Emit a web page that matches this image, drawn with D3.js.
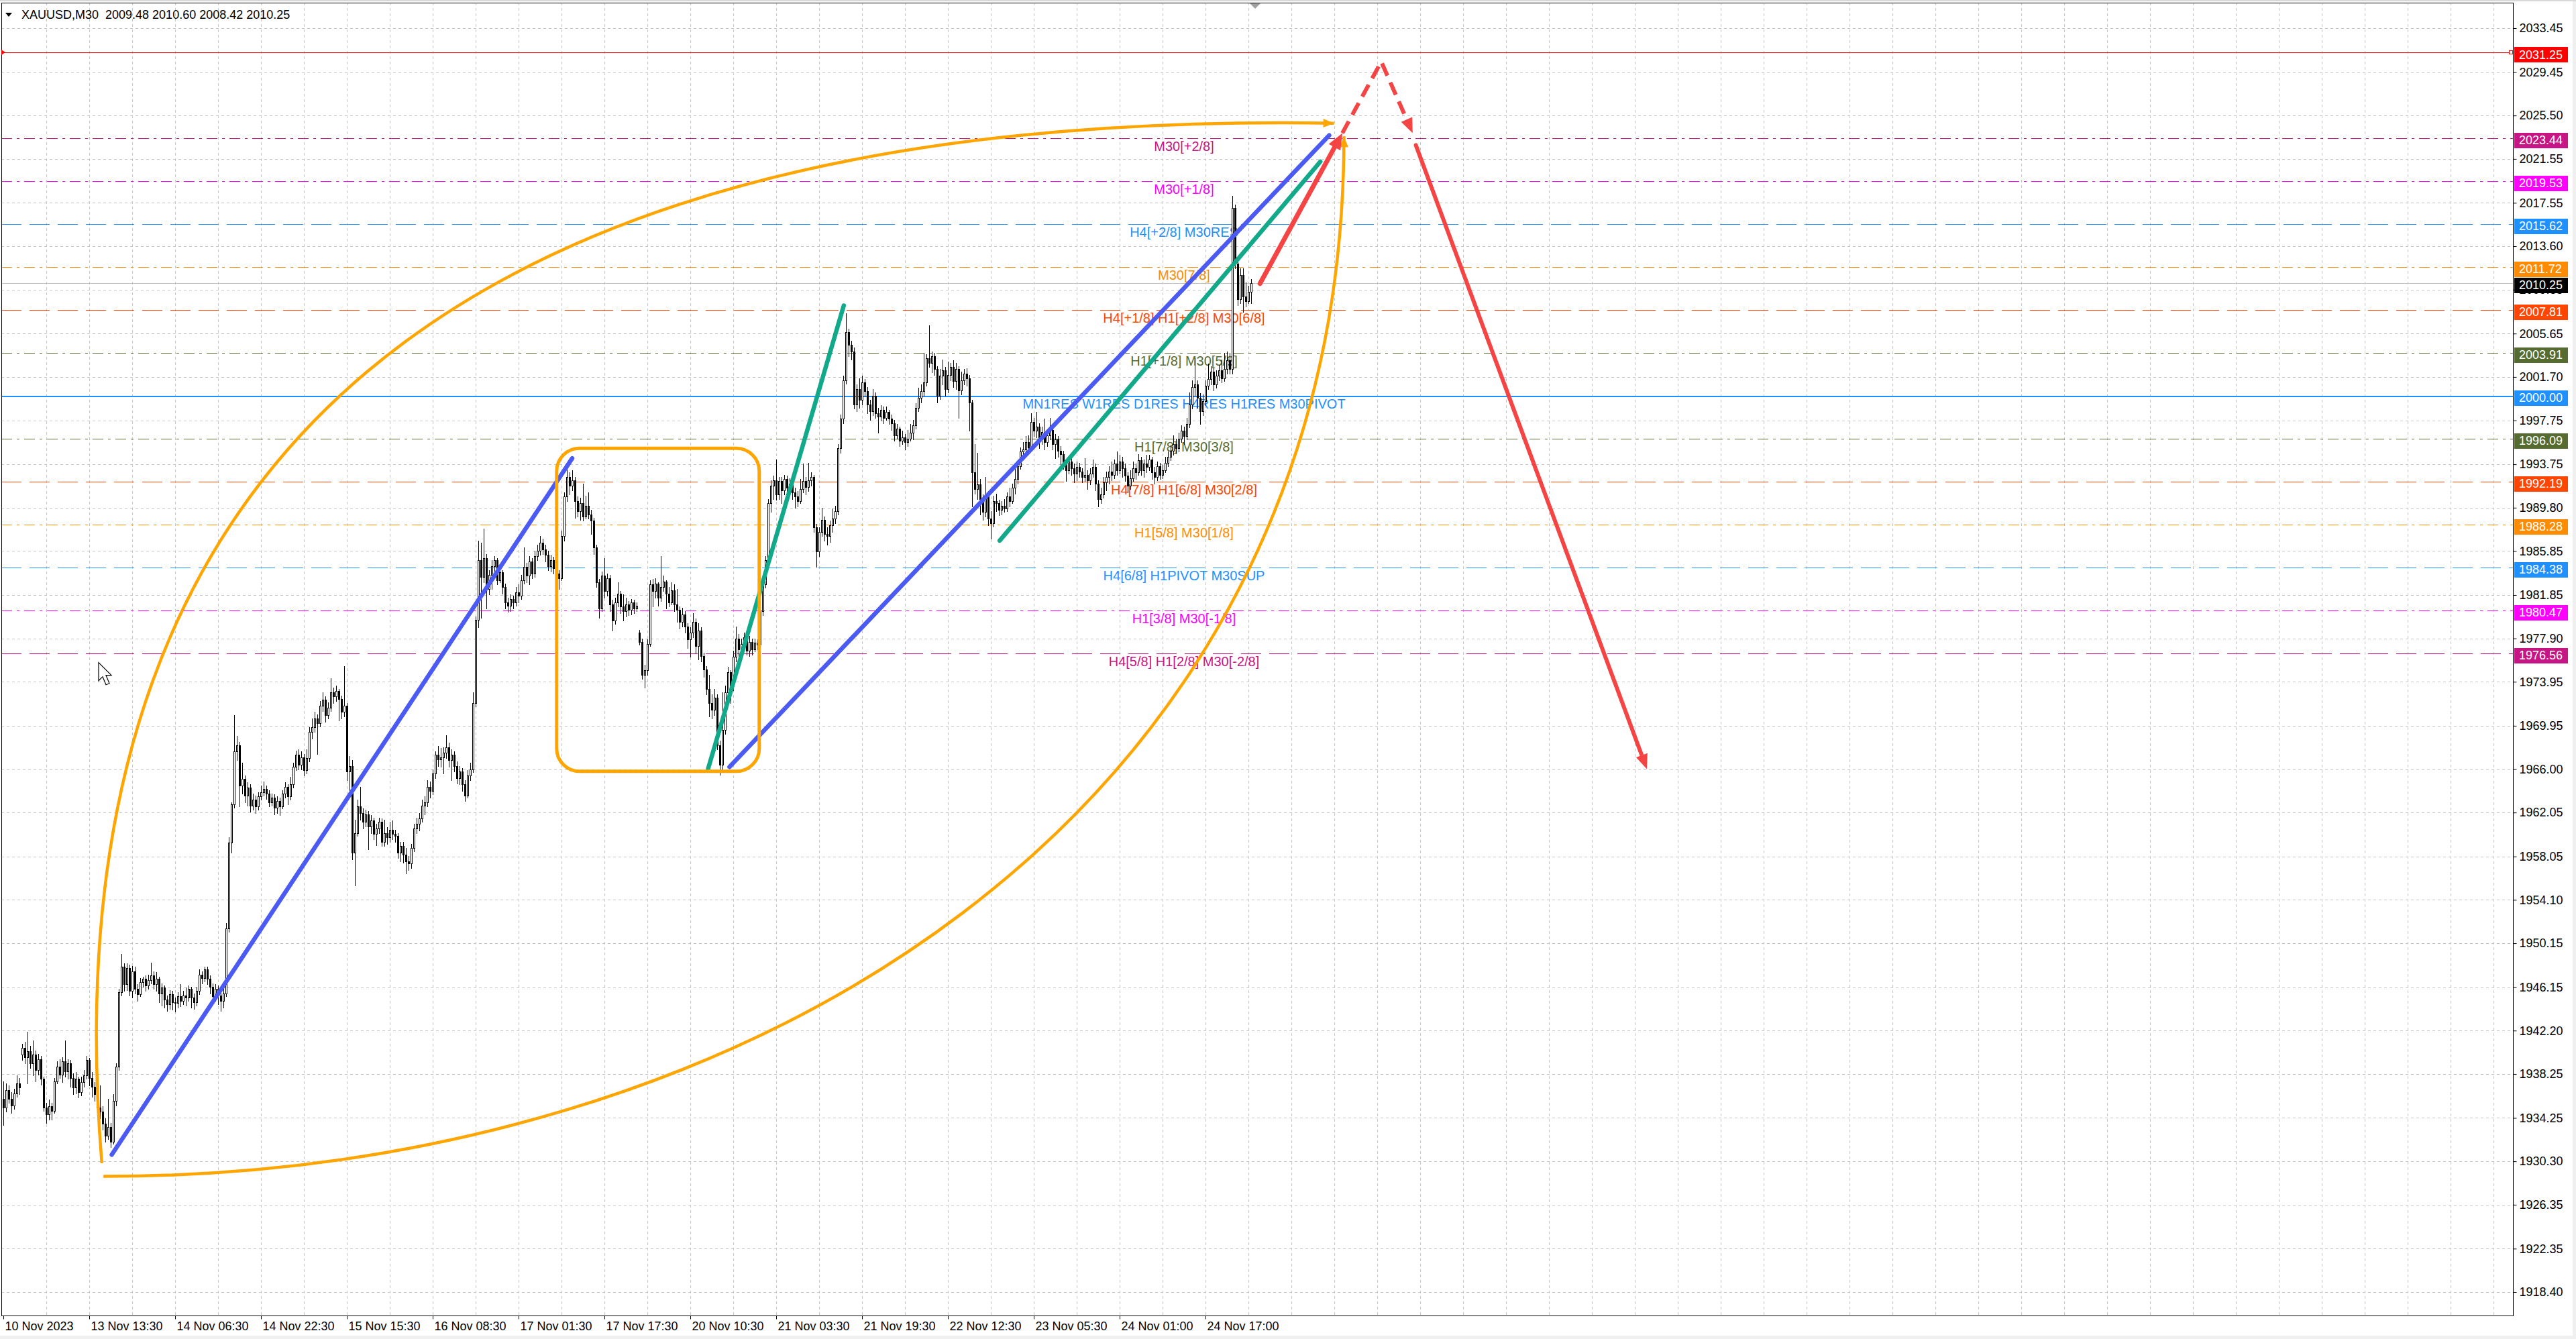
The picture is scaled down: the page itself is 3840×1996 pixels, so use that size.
<!DOCTYPE html>
<html><head><meta charset="utf-8">
<script src="https://cdn.jsdelivr.net/npm/d3@7"></script>
<style>
html,body{margin:0;padding:0;background:#fff;overflow:hidden}
svg{display:block}
text{font-family:"Liberation Sans",Arial,sans-serif}
</style>
</head><body>
<svg id="c" width="3840" height="1996"></svg>
<script>
// ---------------- DATA ----------------
const symbolTitle = "XAUUSD,M30  2009.48 2010.60 2008.42 2010.25";
const firstOpen = 1936.0;
const gapOpens = [[7, 1940.0], [237, 1978.4]];
const closes = [
1935.2,1936.8,1936.0,1935.4,1936.5,1937.4,1937.0,1940.6,1939.8,1940.3,
1939.2,1940.0,1938.6,1939.6,1937.8,1935.2,1934.6,1935.3,1934.9,1937.6,
1938.9,1938.2,1939.4,1938.5,1939.2,1937.9,1937.0,1937.8,1936.6,1937.5,
1938.1,1939.5,1937.9,1937.1,1936.4,1935.2,1934.8,1933.7,1932.6,1933.4,
1932.1,1935.8,1938.9,1945.7,1948.0,1946.4,1947.9,1945.8,1947.6,1946.0,
1945.5,1946.6,1946.9,1946.3,1946.8,1947.2,1946.4,1946.9,1945.6,1946.1,
1945.0,1944.6,1945.5,1944.8,1944.7,1945.3,1944.9,1945.4,1945.2,1946.0,
1945.2,1944.8,1945.8,1947.3,1947.0,1947.8,1946.9,1946.2,1945.3,1946.0,
1945.4,1944.9,1945.6,1951.5,1959.3,1962.8,1967.6,1968.2,1964.5,1965.1,
1963.6,1964.3,1962.7,1963.2,1962.6,1963.5,1963.9,1964.2,1963.8,1963.0,
1963.4,1962.5,1963.1,1962.6,1963.8,1964.4,1963.5,1964.6,1966.2,1967.3,
1966.4,1967.1,1965.9,1967.0,1969.4,1969.8,1970.6,1970.2,1971.8,1972.3,
1970.9,1971.6,1973.0,1972.6,1973.1,1972.4,1971.2,1971.8,1965.8,1966.3,
1958.4,1960.2,1962.6,1962.0,1961.2,1961.9,1960.8,1961.3,1960.1,1960.6,
1961.2,1959.4,1960.2,1959.8,1960.5,1960.1,1959.9,1958.4,1959.0,1958.2,
1957.6,1957.4,1958.8,1960.6,1961.0,1961.5,1962.7,1963.0,1964.4,1964.0,
1965.6,1967.3,1966.9,1967.1,1967.5,1968.0,1966.8,1967.3,1966.3,1965.2,
1965.8,1964.6,1963.6,1965.4,1966.0,1972.0,1979.6,1985.0,1983.5,1985.2,
1982.4,1983.7,1984.5,1985.0,1983.2,1983.9,1982.6,1981.2,1980.9,1981.5,
1981.2,1982.1,1981.8,1983.2,1984.4,1983.6,1984.9,1983.8,1985.4,1985.9,
1986.6,1986.0,1985.5,1984.5,1985.0,1984.3,1983.8,1983.4,1987.2,1990.8,
1992.6,1991.8,1992.3,1990.4,1989.5,1990.2,1989.0,1990.0,1989.2,1988.6,
1986.2,1983.0,1980.6,1983.6,1982.2,1983.4,1981.0,1979.5,1981.2,1982.0,
1980.8,1980.4,1981.0,1980.5,1981.2,1980.6,1980.9,1977.6,1974.6,1975.0,
1977.4,1982.8,1982.2,1982.9,1981.6,1982.6,1983.1,1982.0,1981.2,1982.3,
1981.0,1980.5,1979.4,1980.1,1979.0,1977.8,1978.4,1979.4,1977.2,1978.6,
1976.3,1975.1,1973.3,1972.0,1971.4,1972.5,1968.2,1966.4,1969.6,1973.0,
1974.8,1973.6,1976.2,1977.9,1976.9,1977.4,1978.0,1976.8,1977.6,1976.9,
1977.5,1977.3,1980.4,1982.8,1985.0,1990.2,1991.8,1992.3,1991.0,1992.2,
1991.4,1992.4,1991.6,1992.0,1991.2,1990.8,1990.4,1991.5,1992.2,1991.7,
1992.3,1992.6,1988.0,1985.8,1987.6,1988.7,1987.4,1987.2,1988.2,1988.8,
1989.5,1995.2,1997.9,2001.4,2005.8,2004.6,2004.0,1999.2,2000.6,1999.6,
2001.2,2000.4,1999.2,1998.6,2000.0,1998.4,1998.1,1998.7,1998.0,1998.5,
1997.9,1997.5,1996.4,1997.0,1995.9,1996.2,1995.8,1996.1,1996.6,1997.3,
1998.9,1999.8,2000.4,2001.2,2003.4,2003.0,2003.6,2002.4,2000.0,2001.8,
2002.3,2000.6,2001.9,2002.6,2001.3,2002.4,2000.5,2001.4,2002.0,2001.6,
1999.4,1993.0,1991.5,1991.9,1990.6,1989.4,1991.0,1988.8,1988.4,1990.4,
1990.2,1989.6,1990.0,1989.7,1990.8,1990.4,1991.6,1992.4,1993.6,1994.9,
1995.1,1995.8,1995.3,1997.6,1996.8,1997.2,1996.0,1996.7,1995.8,1996.4,
1996.9,1995.6,1996.0,1995.0,1994.7,1993.8,1993.2,1994.0,1993.4,1992.9,
1993.5,1993.1,1992.6,1992.8,1992.3,1992.9,1993.5,1992.0,1990.6,1991.0,
1992.1,1992.6,1993.1,1992.8,1993.8,1993.2,1994.0,1993.4,1992.7,1991.8,
1992.5,1993.4,1993.0,1994.1,1993.2,1993.8,1993.5,1994.2,1993.0,1992.6,
1993.6,1992.8,1993.2,1993.9,1994.4,1995.0,1995.6,1995.2,1996.1,1996.8,
1996.3,1997.4,1999.2,2000.8,2001.0,1999.8,1998.6,1999.5,2000.9,2001.5,
2002.2,2001.0,2001.8,2002.3,2001.6,2002.4,2003.2,2002.4,2017.1,2012.0,
2008.8,2011.0,2009.0,2008.6,2009.48,2010.25];
const highs = [
1937.6,1937.4,1937.2,1936.6,1936.9,1938.1,1937.9,1941.0,1941.2,1942.1,
1940.8,1941.3,1940.4,1940.1,1939.9,1938.0,1935.6,1935.9,1935.6,1937.9,
1939.4,1939.6,1939.8,1941.3,1939.6,1939.5,1938.3,1938.4,1938.0,1938.0,
1938.6,1939.9,1939.7,1938.4,1937.5,1936.8,1937.2,1935.3,1934.2,1936.0,
1933.8,1936.4,1939.2,1946.0,1949.2,1948.3,1948.3,1948.2,1948.1,1948.0,
1946.4,1947.0,1947.1,1947.2,1947.3,1948.4,1947.6,1947.5,1947.1,1946.5,
1946.3,1945.4,1945.9,1945.8,1945.2,1945.7,1946.4,1945.8,1946.1,1946.3,
1946.2,1945.6,1946.2,1947.8,1947.6,1948.0,1948.0,1947.2,1946.5,1946.4,
1946.3,1945.8,1946.0,1952.0,1959.8,1963.0,1970.9,1969.0,1968.5,1966.6,
1965.4,1964.8,1964.6,1963.8,1963.6,1963.9,1964.5,1964.9,1964.5,1964.1,
1963.8,1963.7,1963.5,1963.4,1964.1,1964.8,1964.6,1965.3,1966.6,1967.7,
1967.8,1967.6,1967.4,1967.8,1969.8,1970.6,1971.2,1971.0,1972.2,1973.0,
1972.6,1972.1,1974.3,1973.4,1973.6,1973.3,1972.7,1975.4,1972.0,1967.2,
1966.8,1961.4,1963.2,1964.4,1962.4,1962.3,1962.2,1961.8,1961.6,1961.0,
1961.6,1961.5,1961.4,1960.7,1961.2,1961.3,1960.5,1960.2,1959.4,1959.4,
1958.8,1958.1,1959.2,1961.0,1961.6,1962.0,1963.2,1963.5,1965.0,1964.9,
1966.0,1967.6,1968.1,1967.9,1968.0,1969.1,1968.4,1967.8,1967.6,1966.7,
1966.3,1966.1,1965.0,1965.9,1966.6,1973.0,1979.9,1986.8,1986.6,1987.9,
1985.6,1984.1,1985.0,1985.4,1985.2,1984.3,1984.1,1982.9,1981.6,1981.9,
1981.8,1982.6,1982.8,1983.7,1986.2,1984.8,1985.4,1985.2,1985.9,1986.4,
1987.2,1987.0,1986.4,1985.9,1985.5,1985.3,1984.6,1984.1,1987.7,1991.2,
1993.4,1993.0,1993.2,1992.6,1990.8,1990.7,1992.0,1990.9,1991.2,1989.6,
1988.9,1986.4,1983.3,1984.0,1985.2,1983.8,1983.7,1981.4,1981.6,1983.0,
1982.2,1981.9,1981.6,1981.3,1981.5,1981.4,1981.2,1978.7,1977.9,1975.5,
1977.8,1983.2,1983.3,1983.4,1983.0,1985.4,1983.6,1983.2,1982.6,1983.0,
1982.8,1982.4,1980.8,1980.7,1980.4,1979.3,1978.9,1980.2,1979.7,1979.3,
1978.9,1976.6,1975.4,1974.6,1972.8,1973.3,1972.8,1968.6,1973.0,1973.6,
1975.3,1975.0,1976.8,1979.0,1978.3,1977.9,1978.4,1978.6,1978.1,1977.9,
1977.9,1977.8,1980.9,1983.3,1985.4,1990.6,1992.3,1992.7,1994.2,1992.6,
1992.6,1992.8,1992.7,1992.5,1992.3,1991.6,1991.3,1992.4,1993.8,1992.6,
1993.9,1993.0,1992.8,1988.3,1988.0,1989.8,1989.0,1988.0,1988.6,1989.7,
1990.0,1995.6,1998.3,2001.8,2007.5,2006.1,2005.0,2004.4,2001.0,2001.6,
2001.8,2001.5,2000.8,1999.6,2000.6,2000.3,1998.9,1999.1,1999.0,1999.0,
1998.7,1998.3,1997.8,1997.4,1997.2,1996.8,1996.5,1996.9,1997.4,1997.8,
1999.3,2000.7,2001.0,2003.9,2003.8,2006.4,2004.0,2003.9,2002.7,2002.4,
2003.3,2002.6,2003.1,2003.0,2003.2,2003.0,2002.7,2002.2,2002.4,2002.5,
2001.9,1999.6,1995.6,1994.8,1992.4,1991.0,1992.6,1991.3,1989.5,1990.9,
1991.1,1990.5,1990.4,1990.6,1991.2,1991.6,1992.0,1993.4,1994.0,1995.3,
1995.8,1996.3,1996.4,1998.4,1998.0,1998.5,1997.5,1997.2,1997.9,1996.9,
1998.0,1997.2,1996.5,1996.3,1995.4,1995.0,1994.1,1994.4,1994.6,1993.8,
1994.0,1993.9,1993.4,1994.3,1993.2,1993.4,1994.2,1993.8,1992.3,1991.6,
1992.6,1993.1,1993.6,1994.0,1994.2,1994.9,1994.6,1994.4,1993.8,1993.0,
1993.2,1994.0,1993.8,1994.7,1994.4,1994.2,1994.6,1994.6,1994.4,1993.5,
1994.0,1993.9,1993.7,1994.4,1994.9,1995.5,1996.4,1996.1,1996.6,1997.3,
1997.2,1998.0,2000.3,2001.4,2003.4,2001.4,2000.2,2000.1,2001.4,2002.9,
2002.7,2002.5,2002.3,2002.8,2003.3,2003.9,2004.0,2003.9,2018.2,2017.4,
2012.3,2011.6,2011.6,2010.3,2010.0,2010.60];
const lows = [
1933.6,1934.8,1935.6,1934.7,1935.1,1936.2,1936.4,1939.5,1939.2,1937.4,
1938.8,1938.1,1937.6,1938.2,1937.3,1934.9,1933.8,1934.1,1934.1,1934.7,
1937.4,1937.9,1937.5,1938.0,1937.8,1937.1,1936.4,1936.5,1936.1,1936.3,
1937.1,1937.8,1937.2,1936.2,1935.8,1934.9,1934.2,1933.2,1932.1,1932.3,
1931.6,1931.9,1935.4,1938.6,1945.4,1945.8,1945.9,1945.4,1945.2,1945.6,
1944.9,1945.3,1946.2,1945.8,1946.0,1946.5,1946.0,1945.8,1944.8,1944.5,
1944.3,1944.0,1944.2,1944.1,1943.9,1944.3,1944.4,1944.6,1944.5,1944.9,
1944.3,1944.2,1944.5,1945.5,1946.5,1946.7,1946.4,1945.6,1944.8,1944.9,
1944.6,1944.0,1944.3,1945.3,1951.2,1958.4,1962.5,1966.8,1962.6,1963.8,
1963.0,1962.7,1962.1,1962.3,1962.0,1962.3,1963.2,1963.6,1963.3,1962.6,
1962.7,1961.9,1962.0,1961.8,1962.4,1963.4,1962.8,1963.2,1964.3,1965.9,
1966.0,1966.0,1965.4,1965.6,1966.7,1968.8,1969.4,1967.4,1969.9,1971.3,
1970.3,1970.6,1971.3,1972.0,1972.2,1970.4,1970.6,1970.8,1965.0,1963.6,
1957.8,1955.4,1959.9,1961.4,1960.6,1960.8,1958.7,1960.2,1959.6,1959.1,
1960.2,1959.0,1959.0,1959.2,1959.4,1959.6,1959.4,1957.9,1957.6,1957.5,
1956.5,1956.8,1957.0,1958.5,1960.2,1960.4,1961.2,1961.9,1962.6,1963.4,
1963.7,1965.2,1966.3,1966.2,1965.6,1967.0,1966.2,1965.0,1965.8,1964.7,
1964.6,1964.0,1963.1,1963.4,1965.0,1965.7,1971.7,1978.9,1979.8,1983.0,
1980.6,1981.9,1982.4,1984.0,1982.8,1983.0,1982.0,1980.6,1980.3,1980.4,
1980.6,1980.9,1981.2,1981.5,1982.9,1983.0,1982.8,1983.4,1983.5,1985.0,
1985.5,1985.6,1984.9,1984.1,1984.0,1983.8,1983.4,1982.4,1983.2,1986.8,
1990.4,1991.0,1991.4,1988.9,1989.0,1988.7,1988.6,1988.8,1988.8,1987.4,
1985.6,1982.6,1979.8,1980.4,1981.6,1981.8,1980.4,1978.6,1979.2,1980.8,
1980.2,1979.5,1979.9,1980.0,1980.1,1980.2,1980.4,1977.3,1974.2,1973.4,
1974.6,1977.2,1980.8,1981.6,1980.9,1981.3,1982.2,1980.6,1980.8,1981.0,
1980.4,1979.4,1978.8,1979.0,1978.4,1977.0,1976.2,1978.0,1976.6,1976.0,
1975.8,1974.4,1972.8,1970.8,1970.6,1970.9,1967.8,1965.5,1966.0,1969.2,
1972.4,1972.0,1973.2,1975.8,1975.3,1976.2,1976.9,1976.4,1976.3,1976.4,
1976.7,1976.9,1977.0,1980.0,1982.5,1984.7,1989.4,1990.6,1990.5,1990.6,
1990.2,1991.0,1990.9,1991.2,1990.6,1989.8,1989.9,1990.2,1991.2,1991.0,
1991.3,1991.8,1987.6,1984.4,1985.4,1987.2,1986.8,1986.4,1986.7,1987.6,
1988.4,1989.2,1994.8,1997.5,2001.1,2003.6,2003.3,1998.8,1998.6,1998.9,
1999.2,1999.9,1998.4,1997.8,1998.2,1998.0,1996.6,1997.7,1997.5,1997.8,
1997.4,1996.9,1995.9,1996.1,1995.4,1995.6,1995.1,1995.4,1995.9,1996.0,
1997.0,1998.6,1999.4,2000.0,2000.9,2002.6,2002.1,2001.9,1999.4,1999.7,
2001.0,2000.0,2000.3,2001.4,2000.8,2000.6,1998.0,2000.1,2001.0,2000.9,
1996.8,1989.9,1991.1,1990.6,1989.2,1988.7,1989.0,1988.2,1987.0,1988.1,
1989.5,1989.1,1989.2,1989.4,1989.5,1989.9,1990.2,1991.1,1992.0,1993.3,
1994.4,1994.7,1994.9,1995.0,1996.3,1996.2,1995.2,1995.6,1995.1,1995.4,
1996.0,1995.1,1994.3,1994.4,1993.6,1993.3,1992.2,1992.9,1992.8,1992.1,
1992.3,1992.6,1992.1,1992.2,1991.5,1991.9,1992.6,1991.4,1989.9,1990.2,
1990.7,1991.4,1992.0,1992.3,1992.5,1992.8,1992.9,1992.6,1992.2,1991.2,
1991.5,1992.2,1992.4,1992.8,1992.8,1992.6,1993.0,1993.2,1992.4,1992.0,
1992.3,1992.4,1992.5,1993.0,1993.6,1994.1,1994.6,1994.8,1994.9,1995.8,
1995.6,1996.0,1997.1,1998.8,2000.0,1998.9,1997.4,1998.2,1999.1,2000.6,
2001.0,2000.5,2000.7,2001.4,2001.2,2001.3,2002.0,2002.0,2002.0,2011.6,
2008.2,2008.4,2007.6,2008.1,2008.4,2008.42];

const yTicks = [2033.45,2029.45,2025.50,2021.55,2017.55,2013.60,2009.65,2005.65,2001.70,1997.75,1993.75,1989.80,1985.85,1981.85,1977.90,1973.95,1969.95,1966.00,1962.05,1958.05,1954.10,1950.15,1946.15,1942.20,1938.25,1934.25,1930.30,1926.35,1922.35,1918.40];
const xTickBars = [0,32,64,96,128,160,192,224,256,288,320,352,384,416,448];
const xTickLabels = ["10 Nov 2023","13 Nov 13:30","14 Nov 06:30","14 Nov 22:30","15 Nov 15:30","16 Nov 08:30","17 Nov 01:30","17 Nov 17:30","20 Nov 10:30","21 Nov 03:30","21 Nov 19:30","22 Nov 12:30","23 Nov 05:30","24 Nov 01:00","24 Nov 17:00"];

const levelPrices = [2023.44,2019.53,2015.62,2011.72,2007.81,2003.91,2000.00,1996.09,1992.19,1988.28,1984.38,1980.47,1976.56];
const levelLabels = ["M30[+2/8]","M30[+1/8]","H4[+2/8] M30RES","M30[7/8]","H4[+1/8] H1[+2/8] M30[6/8]","H1[+1/8] M30[5/8]","MN1RES W1RES D1RES H4RES H1RES M30PIVOT","H1[7/8] M30[3/8]","H4[7/8] H1[6/8] M30[2/8]","H1[5/8] M30[1/8]","H4[6/8] H1PIVOT M30SUP","H1[3/8] M30[-1/8]","H4[5/8] H1[2/8] M30[-2/8]"];
const targetPrice = 2031.25;
const currentPrice = 2010.25;

// annotation anchors (bar index, price)
const blueLines = [[[40.4,1930.9],[212,1994.3]], [[270.6,1966.2],[494.1,2023.7]]];
const tealLines = [[[262.6,1966.0],[313.2,2008.2]], [[371.3,1986.8],[490.8,2021.3]]];
const boxBars = [206.2, 281.7];
const boxPrices = [1965.8, 1995.2];
// curved arrows: Bezier anchor/control points (bar, price)
const upperArc = [[36.7,1930.13],[4.1,2026.74],[495.9,2024.80]];                 // quadratic
const lowerArc = [[37.3,1928.93],[274.3,1928.93],[499.6,1961.24],[499.6,2023.60]]; // cubic
const redSolidArrow = [[468.3,2010.2],[499.0,2023.9]];
const redDashed = [[499.0,2023.9],[513.5,2030.4],[525.2,2023.9]];
const redDownArrow = [[526.4,2022.8],[612.5,1966.0]];

// ---------------- STYLES ----------------
const levelColors = ["#C71585","#FF00FF","#1E90FF","#FF8C00","#FF4500","#556B2F","#1E90FF","#556B2F","#FF4500","#FF8C00","#1E90FF","#FF00FF","#C71585"];
const levelStyles = ["dashdot","dashdot","dash","dashdot","dash","dashdot","solid","dashdot","dash","dashdot","dash","dashdot","dash"];
const dashMap = {dash:"30,12", dashdot:"16,7,4,7", solid:null};

// ---------------- SCALES ----------------
const W = 3840, H = 1996;
const plot = {l:2, t:4, r:3746, b:1961};
const x = d3.scaleLinear().domain([0,448]).range([5,1797]);
const y = d3.scaleLinear().domain([1918.40,2033.45]).range([1926,42]);

const svg = d3.select("#c");
svg.append("rect").attr("width",W).attr("height",H).attr("fill","#fff");

// window frame bits
svg.append("rect").attr("x",0).attr("y",1991).attr("width",W).attr("height",5).attr("fill","#f0f0f0");
svg.append("rect").attr("x",3835).attr("y",0).attr("width",5).attr("height",H).attr("fill","#f0f0f0");
svg.append("rect").attr("x",0).attr("y",0).attr("width",W).attr("height",2).attr("fill","#d8d8d8");

svg.append("clipPath").attr("id","pc").append("rect")
  .attr("x",plot.l).attr("y",plot.t).attr("width",plot.r-plot.l).attr("height",plot.b-plot.t);

const g = svg.append("g").attr("clip-path","url(#pc)");

// grid
const gridG = g.append("g").attr("stroke","#c4c4c4").attr("stroke-width",1).attr("stroke-dasharray","4,4").attr("shape-rendering","crispEdges");
const vBars = d3.range(16, 934, 16);
gridG.selectAll("line.v").data(vBars).join("line")
  .attr("x1",d=>Math.round(x(d))+0.5).attr("x2",d=>Math.round(x(d))+0.5)
  .attr("y1",plot.t).attr("y2",plot.b);
gridG.selectAll("line.h").data(yTicks).join("line")
  .attr("y1",d=>Math.round(y(d))+0.5).attr("y2",d=>Math.round(y(d))+0.5)
  .attr("x1",plot.l).attr("x2",plot.r);

// level lines
g.append("g").selectAll("line").data(levelPrices).join("line")
  .attr("x1",plot.l).attr("x2",plot.r)
  .attr("y1",d=>Math.round(y(d))+0.5).attr("y2",d=>Math.round(y(d))+0.5)
  .attr("stroke",(d,i)=>levelColors[i])
  .attr("stroke-width",(d,i)=>levelStyles[i]==="solid"?2:1)
  .attr("stroke-dasharray",(d,i)=>dashMap[levelStyles[i]])
  .attr("shape-rendering","crispEdges");

// target line
g.append("line").attr("x1",plot.l).attr("x2",plot.r)
  .attr("y1",Math.round(y(targetPrice))+0.5).attr("y2",Math.round(y(targetPrice))+0.5)
  .attr("stroke","#FF0000").attr("stroke-width",1);

// current price line
g.append("line").attr("x1",plot.l).attr("x2",plot.r)
  .attr("y1",Math.round(y(currentPrice))+0.5).attr("y2",Math.round(y(currentPrice))+0.5)
  .attr("stroke","#c0c0c0").attr("stroke-width",1);

// level labels
const labelBar = 440;
g.append("g").selectAll("text").data(levelPrices).join("text")
  .attr("x",x(labelBar)).attr("y",d=>y(d)+19)
  .attr("text-anchor","middle").attr("font-size",20)
  .attr("fill",(d,i)=>levelColors[i])
  .text((d,i)=>levelLabels[i]);

// candles
const bars = closes.map((c,i)=>{
  let o = i===0 ? firstOpen : closes[i-1];
  const gp = gapOpens.find(e=>e[0]===i); if (gp) o = gp[1];
  return {i, o, h:highs[i], l:lows[i], c};
});
const cg = g.append("g").attr("shape-rendering","crispEdges");
cg.selectAll("line").data(bars).join("line")
  .attr("x1",d=>Math.round(x(d.i))+0.5).attr("x2",d=>Math.round(x(d.i))+0.5)
  .attr("y1",d=>Math.round(y(d.h))).attr("y2",d=>Math.round(y(d.l))+1)
  .attr("stroke","#000");
cg.selectAll("rect").data(bars).join("rect")
  .attr("x",d=>Math.round(x(d.i))-1+0.5)
  .attr("y",d=>Math.round(y(Math.max(d.o,d.c)))+0.5)
  .attr("width",2)
  .attr("height",d=>Math.max(0, Math.round(y(Math.min(d.o,d.c)))-Math.round(y(Math.max(d.o,d.c)))))
  .attr("fill",d=>d.c>=d.o?"#fff":"#000")
  .attr("stroke","#000").attr("stroke-width",1);

// helpers
const P = p => [x(p[0]), y(p[1])];
function arrowHead(sel, tip, from, len, wid, color){
  const dx = tip[0]-from[0], dy = tip[1]-from[1];
  const L = Math.hypot(dx,dy), ux = dx/L, uy = dy/L;
  const bx = tip[0]-ux*len, by = tip[1]-uy*len;
  const pts = [[tip[0],tip[1]],[bx-uy*wid/2, by+ux*wid/2],[bx+uy*wid/2, by-ux*wid/2]];
  sel.append("path").attr("d","M"+pts.map(p=>p.join(",")).join("L")+"Z").attr("fill",color);
}
function shorten(a, b, d){
  const dx=b[0]-a[0], dy=b[1]-a[1], L=Math.hypot(dx,dy);
  return [b[0]-dx/L*d, b[1]-dy/L*d];
}

const ag = g.append("g").attr("fill","none").attr("stroke-linecap","round");

// orange curved arrows
const orange = "#FFA500";
{
  const [a,c,b] = upperArc.map(P);
  const p = d3.path(); p.moveTo(a[0],a[1]); p.quadraticCurveTo(c[0],c[1],b[0],b[1]);
  ag.append("path").attr("d",p.toString()).attr("stroke",orange).attr("stroke-width",4.5).attr("stroke-linecap","butt");
  arrowHead(g, b, c, 16, 13, orange);
}
{
  const [a,c1,c2,b] = lowerArc.map(P);
  const p = d3.path(); p.moveTo(a[0],a[1]); p.bezierCurveTo(c1[0],c1[1],c2[0],c2[1],b[0],b[1]);
  ag.append("path").attr("d",p.toString()).attr("stroke",orange).attr("stroke-width",4.5).attr("stroke-linecap","butt");
  arrowHead(g, b, c2, 16, 13, orange);
}

// orange rounded box
g.append("rect")
  .attr("x",x(boxBars[0])).attr("y",y(boxPrices[1]))
  .attr("width",x(boxBars[1])-x(boxBars[0])).attr("height",y(boxPrices[0])-y(boxPrices[1]))
  .attr("rx",34).attr("ry",34)
  .attr("fill","none").attr("stroke",orange).attr("stroke-width",5);

// blue & teal lines
blueLines.forEach(l=>{
  const a=P(l[0]), b=P(l[1]);
  ag.append("line").attr("x1",a[0]).attr("y1",a[1]).attr("x2",b[0]).attr("y2",b[1])
    .attr("stroke","#4A5AF2").attr("stroke-width",6.5);
});
tealLines.forEach(l=>{
  const a=P(l[0]), b=P(l[1]);
  ag.append("line").attr("x1",a[0]).attr("y1",a[1]).attr("x2",b[0]).attr("y2",b[1])
    .attr("stroke","#12A88A").attr("stroke-width",6.5);
});

// red arrows
const red = "#F44444";
{
  const a=P(redSolidArrow[0]), b=P(redSolidArrow[1]);
  const bb = shorten(a,b,16);
  ag.append("line").attr("x1",a[0]).attr("y1",a[1]).attr("x2",bb[0]).attr("y2",bb[1])
    .attr("stroke",red).attr("stroke-width",7);
  arrowHead(g, b, a, 24, 20, red);
}
{
  const pts = redDashed.map(P);
  const last = shorten(pts[1], pts[2], 14);
  ag.append("path").attr("d",d3.line()([pts[0],pts[1],last]))
    .attr("stroke",red).attr("stroke-width",6).attr("stroke-dasharray","20,11").attr("stroke-linecap","butt");
  arrowHead(g, pts[2], pts[1], 22, 18, red);
}
{
  const a=P(redDownArrow[0]), b=P(redDownArrow[1]);
  const bb = shorten(a,b,16);
  ag.append("line").attr("x1",a[0]).attr("y1",a[1]).attr("x2",bb[0]).attr("y2",bb[1])
    .attr("stroke",red).attr("stroke-width",6);
  arrowHead(g, b, a, 22, 18, red);
}

// plot border
svg.append("rect").attr("x",plot.l+0.5).attr("y",plot.t+0.5)
  .attr("width",plot.r-plot.l).attr("height",plot.b-plot.t)
  .attr("fill","none").attr("stroke","#000").attr("stroke-width",1).attr("shape-rendering","crispEdges");

// right axis
const yAxis = d3.axisRight(y).tickValues(yTicks).tickSize(5).tickPadding(4).tickFormat(d3.format(".2f"));
const yg = svg.append("g").attr("transform",`translate(${plot.r+0.5},0)`).call(yAxis);
yg.select(".domain").remove();
yg.selectAll("text").attr("font-size",18).attr("fill","#000").style("font-family",'"Liberation Sans",Arial,sans-serif');
yg.selectAll("line").attr("stroke","#000");

// bottom axis
const xAxis = d3.axisBottom(x).tickValues(xTickBars).tickSize(5).tickPadding(4).tickFormat((d,i)=>xTickLabels[i]);
const xg = svg.append("g").attr("transform",`translate(0,${plot.b+0.5})`).call(xAxis);
xg.select(".domain").remove();
xg.selectAll("text").attr("font-size",18).attr("fill","#000").attr("text-anchor","start").attr("dx",2)
  .style("font-family",'"Liberation Sans",Arial,sans-serif');
xg.selectAll("line").attr("stroke","#000");

// price boxes on axis
const boxItems = [{p:targetPrice,c:"#FF0000"}]
  .concat(levelPrices.map((p,i)=>({p, c:levelColors[i]})))
  .concat([{p:currentPrice, c:"#000000"}]);
const bg = svg.append("g");
boxItems.forEach(b=>{
  const cy = y(b.p)+3;
  bg.append("rect").attr("x",plot.r+2).attr("y",Math.round(cy-11)).attr("width",80).attr("height",23).attr("fill",b.c);
  bg.append("text").attr("x",plot.r+9).attr("y",cy).attr("dy","0.36em")
    .attr("font-size",18).attr("fill","#fff").text(b.p.toFixed(2));
});

// target line end markers
svg.append("rect").attr("x",plot.r-5.5).attr("y",Math.round(y(targetPrice))-2.5).attr("width",5).attr("height",5)
  .attr("fill","#fff").attr("stroke","#FF0000");
svg.append("path").attr("d",`M${plot.l},${y(targetPrice)-4}L${plot.l+6},${y(targetPrice)}L${plot.l},${y(targetPrice)+4}Z`).attr("fill","#FF0000");

// header
svg.append("path").attr("d","M8,19L18,19L13,25Z").attr("fill","#000");
svg.append("text").attr("x",32).attr("y",28).attr("font-size",18).attr("fill","#000")
  .attr("xml:space","preserve").style("white-space","pre").text(symbolTitle);

// chart shift marker
{
  const sx = x(466.5);
  svg.append("path").attr("d",`M${sx-8},${plot.t+1}L${sx+8},${plot.t+1}L${sx},${plot.t+9}Z`).attr("fill","#a0a0a0");
}

// mouse cursor artifact
{
  const cx = x(35.5), cy = y(1975.7);
  const pts = [[0,0],[0,27],[6,21],[11,33],[16,31],[11,19],[19,19]].map(p=>[cx+p[0],cy+p[1]]);
  svg.append("path").attr("d","M"+pts.map(p=>p.join(",")).join("L")+"Z").attr("fill","#fff").attr("stroke","#000").attr("stroke-width",1.2);
}
</script>
</body></html>
